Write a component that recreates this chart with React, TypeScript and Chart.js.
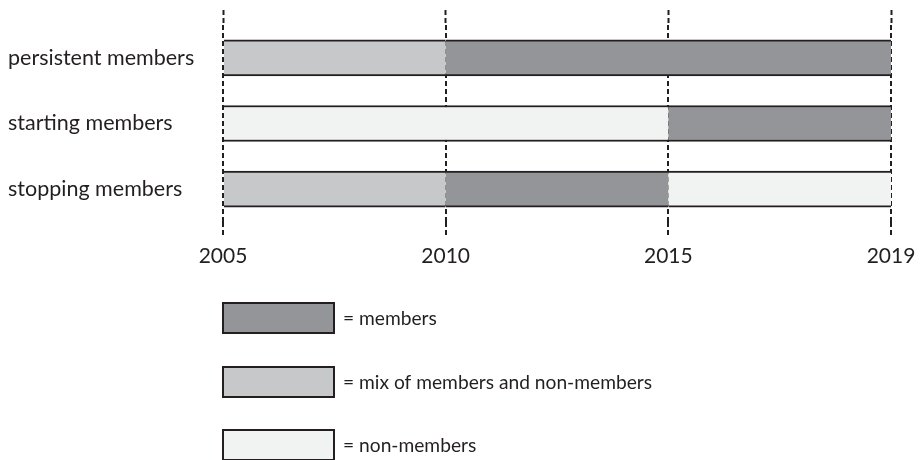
import React, { useEffect, useRef } from "react";
import { Chart, registerables } from "chart.js";

Chart.register(...registerables);

const categories = ["persistent members", "starting members", "stopping members"];
// period boundaries shown on the axis (evenly spaced in the original)
const tickYears = [2005, 2010, 2015, 2019];

// segments per state: [start year, end year] per category (null = absent)
const membersSpans: ([number, number] | null)[] = [[2010, 2019], [2015, 2019], [2010, 2015]];
const mixSpans: ([number, number] | null)[] = [[2005, 2010], null, [2005, 2010]];
const nonMemberSpans: ([number, number] | null)[] = [null, [2005, 2015], [2015, 2019]];

const legendLabels = ["= members", "= mix of members and non-members", "= non-members"];
const stateColors = ["#939598", "#c7c8ca", "#f1f2f2"];

const INK = "#231f20";
const FONT = "Lato";
const DASH = [5, 3];

const toAxis = (spans: ([number, number] | null)[]) =>
  spans.map((s) => (s ? [tickYears.indexOf(s[0]), tickYears.indexOf(s[1])] : null));

const legendPlugin = {
  id: "stateLegend",
  afterDraw(chart: any) {
    const ctx = chart.ctx;
    ctx.save();
    const boxX = 223;
    const boxW = 111;
    const boxH = 30;
    const tops = [303, 367, 430];
    legendLabels.forEach((label, i) => {
      const y = tops[i];
      ctx.fillStyle = stateColors[i];
      ctx.fillRect(boxX, y, boxW, boxH);
      ctx.strokeStyle = INK;
      ctx.lineWidth = 2;
      ctx.strokeRect(boxX, y, boxW, boxH);
      ctx.fillStyle = INK;
      ctx.font = `19.2px ${FONT}`;
      ctx.textBaseline = "middle";
      ctx.textAlign = "left";
      ctx.fillText(label, 343, y + boxH / 2 + 1);
    });
    ctx.restore();
  },
};

export default function App() {
  const ref = useRef<HTMLCanvasElement>(null);
  useEffect(() => {
    if (!ref.current) return;
    const barStyle = {
      borderColor: INK,
      borderWidth: { top: 2, bottom: 2, left: 0, right: 0 },
      borderSkipped: false,
      barThickness: 36,
      grouped: false,
    };
    const xCommon = {
      type: "linear",
      min: 0,
      max: tickYears.length - 1,
      afterBuildTicks: (s: any) => {
        s.ticks = tickYears.map((_, i) => ({ value: i }));
      },
    };
    const chart = new Chart(ref.current, {
      type: "bar",
      data: {
        labels: categories,
        datasets: [
          { label: "members", data: toAxis(membersSpans) as any, backgroundColor: stateColors[0], ...barStyle },
          { label: "mix", data: toAxis(mixSpans) as any, backgroundColor: stateColors[1], ...barStyle },
          { label: "non-members", data: toAxis(nonMemberSpans) as any, backgroundColor: stateColors[2], ...barStyle },
        ],
      },
      options: {
        indexAxis: "y",
        animation: false,
        responsive: true,
        maintainAspectRatio: false,
        layout: { padding: { left: 8, right: 31, top: 10, bottom: 188 } },
        plugins: { legend: { display: false }, tooltip: { enabled: false } },
        scales: {
          x: {
            ...xCommon,
            position: "bottom",
            z: 1,
            afterFit: (s: any) => {
              s.height = 50;
              s.paddingLeft = 0;
              s.paddingRight = 0;
            },
            border: { display: false, dash: DASH },
            grid: {
              color: INK,
              lineWidth: 2,
              tickLength: 13,
              tickBorderDash: DASH,
              tickColor: INK,
              tickWidth: 2,
            },
            ticks: {
              color: INK,
              font: { family: FONT, size: 21 },
              padding: 9,
              maxRotation: 0,
              callback: (v: any) => String(tickYears[Math.round(v)] ?? ""),
            },
          },
          x2: {
            ...xCommon,
            position: "top",
            z: 1,
            afterFit: (s: any) => {
              s.height = 15;
              s.paddingLeft = 0;
              s.paddingRight = 0;
            },
            border: { display: false, dash: DASH },
            grid: {
              drawOnChartArea: false,
              tickLength: 15,
              tickBorderDash: DASH,
              tickColor: INK,
              tickWidth: 2,
            },
            ticks: { display: false },
          },
          y: {
            type: "category",
            afterFit: (s: any) => {
              s.width = 215;
            },
            border: { display: false },
            grid: { display: false },
            ticks: {
              color: INK,
              crossAlign: "far",
              font: { family: FONT, size: 21.5 },
            },
          },
        },
      },
      plugins: [legendPlugin],
    } as any);
    return () => chart.destroy();
  }, []);
  return (
    <div style={{ position: "absolute", left: 0, top: 0, width: 922, height: 460, background: "#fff" }}>
      <canvas ref={ref} />
    </div>
  );
}
